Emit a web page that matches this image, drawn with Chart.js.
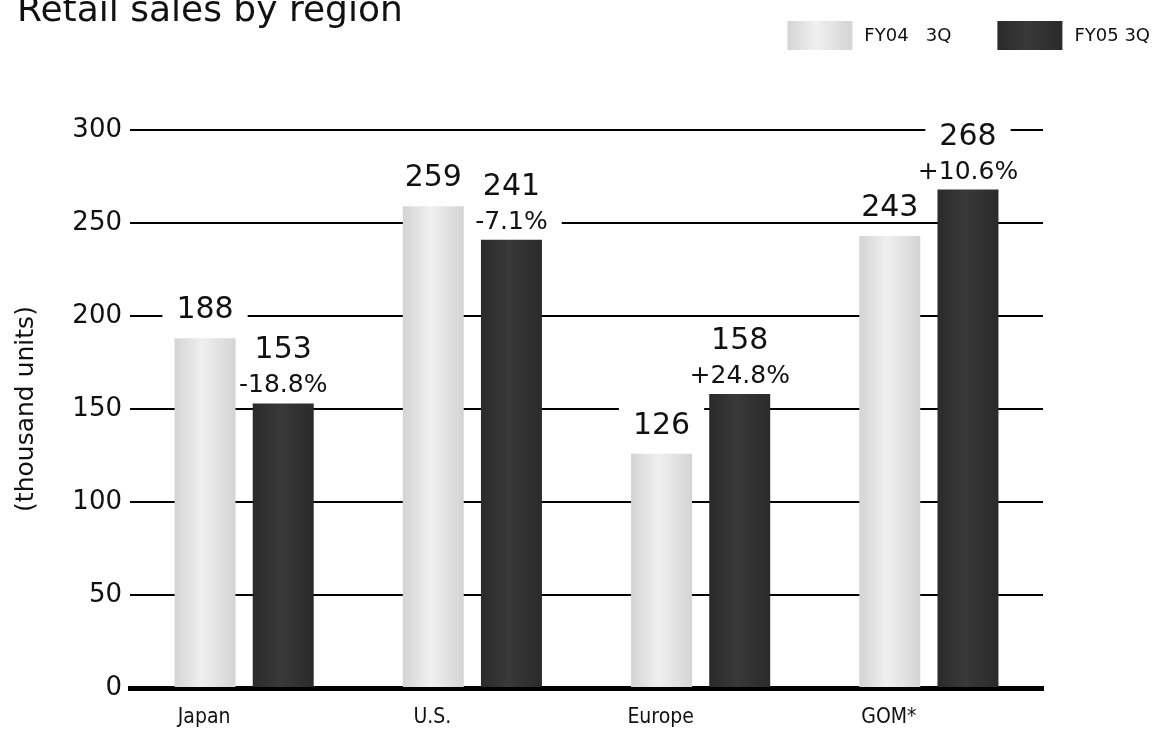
<!DOCTYPE html>
<html>
<head>
<meta charset="utf-8">
<title>Retail sales by region</title>
<script src="https://cdn.jsdelivr.net/npm/chart.js@4.4.1/dist/chart.umd.min.js"></script>
<style>
    html, body { margin: 0; padding: 0; background: #fff; }
    #wrap { width: 1153px; height: 729px; }
</style>
</head>
<body>
<div id="wrap"><canvas id="salesChart" width="1153" height="729"></canvas></div>
<script>
// Retail sales by region, thousand units
const regions = ['Japan', 'U.S.', 'Europe', 'GOM*'];
const seriesNames = ['FY04   3Q', 'FY05 3Q'];
const fy04Sales = [188, 259, 126, 243];
const fy05Sales = [153, 241, 158, 268];
const yoyChange = ['-18.8%', '-7.1%', '+24.8%', '+10.6%'];
const yTicks = [0, 50, 100, 150, 200, 250, 300];

const FONT = '"DejaVu Sans", "Liberation Sans", sans-serif';
const NARROW = '"Liberation Sans Narrow", "DejaVu Sans Condensed", sans-serif';
const INK = '#111';

// edge / middle tones of the shaded bars
const shades = [
    { edge: '#d4d4d4', mid: '#f0f0f0' },
    { edge: '#2a2a2a', mid: '#393939' }
];

function barGradient(ctx, left, right, shade) {
    const g = ctx.createLinearGradient(left, 0, right, 0);
    g.addColorStop(0, shade.edge);
    g.addColorStop(0.45, shade.mid);
    g.addColorStop(1, shade.edge);
    return g;
}

// give every bar its own horizontal gradient
const shadedBars = {
    id: 'shadedBars',
    beforeDatasetsDraw(chart) {
        const ctx = chart.ctx;
        chart.data.datasets.forEach((ds, i) => {
            chart.getDatasetMeta(i).data.forEach(bar => {
                const half = bar.width / 2;
                bar.options = Object.assign({}, bar.options, {
                    backgroundColor: barGradient(ctx, bar.x - half, bar.x + half, shades[i])
                });
            });
        });
    }
};

// value labels above the bars (FY05 also gets the change vs FY04)
function labelItems(chart) {
    const out = [];
    chart.getDatasetMeta(0).data.forEach((bar, i) => {
        out.push({ x: bar.x, text: String(fy04Sales[i]), size: 30, base: bar.y - 20 });
    });
    chart.getDatasetMeta(1).data.forEach((bar, i) => {
        out.push({ x: bar.x, text: String(fy05Sales[i]), size: 30, base: bar.y - 45 });
        out.push({ x: bar.x, text: yoyChange[i], size: 25, base: bar.y - 11 });
    });
    return out;
}

const valueLabels = {
    id: 'valueLabels',
    beforeDatasetsDraw(chart) {
        // white patches so the grid lines break around the labels
        const ctx = chart.ctx;
        ctx.save();
        ctx.fillStyle = '#fff';
        labelItems(chart).forEach(it => {
            ctx.font = `${it.size}px ${FONT}`;
            const w = ctx.measureText(it.text).width;
            const h = it.size * 0.75;
            ctx.fillRect(it.x - w / 2 - 14, it.base - h - 4, w + 28, h + 9);
        });
        ctx.restore();
    },
    afterDatasetsDraw(chart) {
        const ctx = chart.ctx;
        ctx.save();
        ctx.fillStyle = INK;
        ctx.textAlign = 'center';
        ctx.textBaseline = 'alphabetic';
        labelItems(chart).forEach(it => {
            ctx.font = `${it.size}px ${FONT}`;
            ctx.fillText(it.text, it.x, it.base);
        });
        ctx.restore();
    }
};

// title on the left, legend on the right
const header = {
    id: 'header',
    afterDraw(chart) {
        const ctx = chart.ctx;
        ctx.save();
        ctx.fillStyle = INK;
        ctx.font = `36px ${FONT}`;
        ctx.textBaseline = 'alphabetic';
        ctx.fillText('Retail sales by region', 17, 21);

        ctx.font = `18px ${FONT}`;
        ctx.textBaseline = 'middle';
        let right = 1150;
        for (let i = chart.data.datasets.length - 1; i >= 0; i--) {
            const name = chart.data.datasets[i].label;
            const w = ctx.measureText(name).width;
            const textX = right - w;
            const boxX = textX - 12 - 65;
            ctx.fillStyle = barGradient(ctx, boxX, boxX + 65, shades[i]);
            ctx.fillRect(boxX, 21, 65, 29);
            ctx.fillStyle = INK;
            ctx.fillText(name, textX, 36);
            right = boxX - 46;
        }
        ctx.restore();
    }
};

new Chart(document.getElementById('salesChart'), {
    type: 'bar',
    data: {
        labels: regions,
        datasets: [
            { label: seriesNames[0], data: fy04Sales, backgroundColor: shades[0].mid },
            { label: seriesNames[1], data: fy05Sales, backgroundColor: shades[1].mid }
        ]
    },
    options: {
        responsive: false,
        animation: false,
        categoryPercentage: 0.685,
        barPercentage: 0.78,
        layout: { padding: { top: 130, right: 110, bottom: 0, left: 0 } },
        plugins: {
            legend: { display: false },
            title: { display: false },
            tooltip: { enabled: false }
        },
        scales: {
            x: {
                grid: { display: false },
                border: { display: true, color: '#000', width: 5 },
                ticks: { color: INK, font: { family: NARROW, size: 21 }, padding: 9, labelOffset: -40 },
                afterFit: s => { s.height = 41; }
            },
            y: {
                min: 0,
                max: 300,
                afterBuildTicks: s => { s.ticks = yTicks.map(v => ({ value: v })); },
                grid: { color: '#000', lineWidth: 2, drawTicks: false },
                border: { display: false },
                ticks: { color: INK, font: { family: FONT, size: 26 }, padding: 8 },
                title: {
                    display: true,
                    text: '(thousand units)',
                    color: INK,
                    font: { family: FONT, size: 25 },
                    padding: { top: 11 }
                },
                afterFit: s => { s.width = 130; }
            }
        }
    },
    plugins: [shadedBars, valueLabels, header]
});
</script>
</body>
</html>
